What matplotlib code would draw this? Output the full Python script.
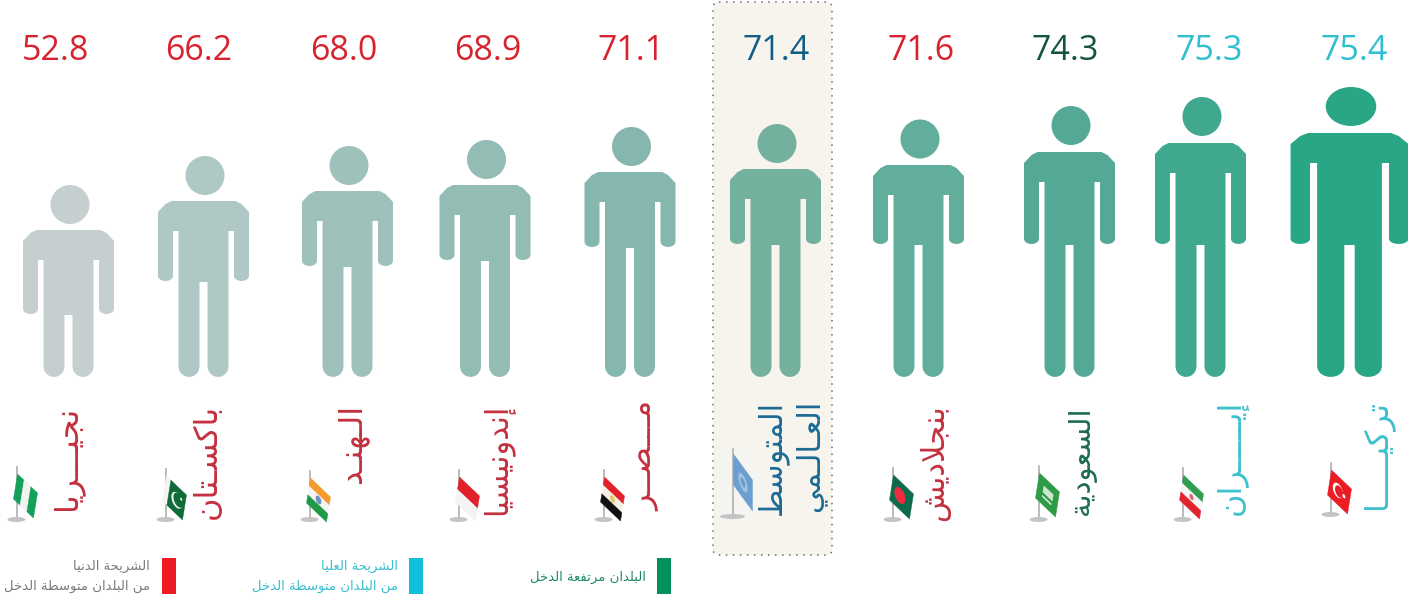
import matplotlib
matplotlib.use('Agg')
import matplotlib.pyplot as plt
from matplotlib.patches import Polygon, Ellipse, FancyBboxPatch, Rectangle
import numpy as np

# data
names = ['نجيـــريا', 'باكسـتان', 'الـهنـد', 'إندونيسيا', 'مـــصــر',
         'المتوسط', 'بنجلاديش', 'السعودية', 'إيـــــران', 'تركيـــــا']
name_line2 = {5: 'العـالـمي'}
values = [52.8, 66.2, 68.0, 68.9, 71.1, 71.4, 71.6, 74.3, 75.3, 75.4]
groups = ['low', 'low', 'low', 'low', 'low', 'avg', 'low', 'high', 'upper', 'upper']
legend_low = ['الشريحة الدنيا', 'من البلدان متوسطة الدخل']
legend_upper = ['الشريحة العليا', 'من البلدان متوسطة الدخل']
legend_high = ['البلدان مرتفعة الدخل']

# layout, pixels
num_x = [55, 199, 344, 488, 631, 776, 921, 1065, 1209, 1354]
body_x = [68.5, 203.5, 347.5, 485, 630, 775.5, 918.5, 1069.5, 1200.5, 1349.5]
head_top = [185, 156, 146, 140, 127, 124, 119.5, 106, 97, 87]
shoulder = [230, 201, 191, 185, 172, 169, 165, 152, 143, 133]
crotch = [315, 282, 267, 261, 248, 245, 245, 245, 245, 245]
width_scale = [1, 1, 1, 1, 1, 1, 1, 1, 1, 1.295]
body_colors = ['#C5CFCF', '#AFC8C5', '#9FC1BC', '#93BCB4', '#86B7AF',
               '#74B09E', '#62AE9C', '#54A996', '#40A88E', '#29A685']
name_x = [67, 207, 352, 497, 645, 772, 935, 1082, 1232, 1378]
name_y = [406, 404, 404, 404, 401, 400, 404, 406, 400, 400]
name_size = [23, 23, 23, 22, 23, 22, 22, 21, 23, 23]
pole_x = [17, 166, 310, 459, 604, 733, 893, 1039, 1183, 1331]
flag_top = [474, 476, 478, 477, 477, 454, 475, 473, 475, 470]

num_colors = {'low': '#D8232F', 'avg': '#135E86', 'high': '#15553F', 'upper': '#2FBFD0'}
name_colors = {'low': '#C4303F', 'avg': '#1C6A94', 'high': '#1E6A50', 'upper': '#3FC0CE'}

# arabic shaping, matplotlib does not do it: isolated, final, initial, medial
DUAL = {'ب': 0xFE8F, 'ت': 0xFE95, 'ج': 0xFE9D, 'ح': 0xFEA1, 'خ': 0xFEA5, 'س': 0xFEB1,
        'ش': 0xFEB5, 'ص': 0xFEB9, 'ط': 0xFEC1, 'ع': 0xFEC9, 'ف': 0xFED1, 'ق': 0xFED5,
        'ك': 0xFED9, 'ل': 0xFEDD, 'م': 0xFEE1, 'ن': 0xFEE5, 'ه': 0xFEE9, 'ي': 0xFEF1}
RIGHT = {'ا': 0xFE8D, 'أ': 0xFE83, 'إ': 0xFE87, 'د': 0xFEA9, 'ر': 0xFEAD, 'و': 0xFEED, 'ة': 0xFE93}
LAM_ALEF = {'ا': 0xFEFB, 'أ': 0xFEF7, 'إ': 0xFEF9}
KASHIDA = 'ـ'


def shape(text):
    out = []
    i = 0
    prev_joins = False
    while i < len(text):
        c = text[i]
        nxt = text[i + 1] if i + 1 < len(text) else ''
        if c == 'ل' and nxt in LAM_ALEF:
            out.append(chr(LAM_ALEF[nxt] + (1 if prev_joins else 0)))
            prev_joins = False
            i += 2
            continue
        next_ok = nxt in DUAL or nxt in RIGHT or nxt == KASHIDA
        if c == KASHIDA:
            out.append(c)
            prev_joins = True
        elif c in DUAL:
            if prev_joins and next_ok:
                off = 3
            elif prev_joins:
                off = 1
            elif next_ok:
                off = 2
            else:
                off = 0
            out.append(chr(DUAL[c] + off))
            prev_joins = next_ok
        elif c in RIGHT:
            out.append(chr(RIGHT[c] + (1 if prev_joins else 0)))
            prev_joins = False
        else:
            out.append(c)
            prev_joins = False
        i += 1
    return ''.join(reversed(out))


def arc(cx, cy, rx, ry, a0, a1, n=10):
    a = np.radians(np.linspace(a0, a1, n))
    return list(zip(cx + rx * np.cos(a), cy + ry * np.sin(a)))


def draw_person(ax, x, top, sh, cr, k, color):
    foot = 377
    pit = sh + 30
    arm_end = cr - 1
    half = [(0, sh), (32, sh)]
    half += [(38, sh + 3), (45.5, sh + 11)]
    half += [(45.5, arm_end - 5)]
    half += arc(38, arm_end - 5, 7.5, 5, 0, 180)
    half += [(30.5, pit), (25, pit)]
    half += arc(14.5, foot - 10.5, 10.5, 10.5, 0, 180)
    half += [(4, cr), (0, cr)]
    half = np.array(half)
    right = np.column_stack([x + half[:, 0] * k, half[:, 1]])
    left = np.column_stack([x - half[::-1, 0] * k, half[::-1, 1]])
    ax.add_patch(Polygon(np.vstack([right, left]), closed=True, fc=color, ec='none', zorder=3))
    ax.add_patch(Ellipse((x + 1.5, top + 19.5), 39 * k, 39, fc=color, ec='none', zorder=3))


def draw_flag(ax, i):
    px = pole_x[i]
    y0 = flag_top[i]
    un = i == 5
    pole_top = y0 - (5 if un else 7)
    base_y = 516 if un else 519
    if i == 9:
        base_y = 514
    base_w = 25 if un else 18
    ax.plot([px, px], [pole_top, base_y], color='#B5B5B5', lw=1.3, zorder=3)
    ax.add_patch(Ellipse((px - 0.5, base_y + 0.5), base_w, 5, fc='#C4C4C4', ec='none', zorder=3))

    if un:
        u, v = np.array([19.0, 26.0]), np.array([0.0, 31.0])
    else:
        u, v = np.array([20.0, 19.0]), np.array([-4.0, 25.0])
    o = np.array([px + 0.5, y0])

    def to_px(s, t):
        return o + np.outer(s, u) + np.outer(t, v)

    def band(s0, s1, t0, t1, c):
        pts = to_px(np.array([s0, s1, s1, s0]), np.array([t0, t0, t1, t1]))
        ax.add_patch(Polygon(pts, closed=True, fc=c, ec=c, lw=0.3, zorder=4))

    def disc(s, t, r, c):
        a = np.linspace(0, 2 * np.pi, 30)
        pts = to_px(s + r * np.cos(a), t + r * np.sin(a))
        ax.add_patch(Polygon(pts, closed=True, fc=c, ec='none', zorder=5))

    if i == 0:
        band(0, .33, 0, 1, '#12A05A')
        band(.33, .67, 0, 1, '#F2F2F2')
        band(.67, 1, 0, 1, '#12A05A')
    elif i == 1:
        band(0, .22, 0, 1, '#F4F4F4')
        band(.22, 1, 0, 1, '#0F6B38')
        disc(.62, .5, .27, '#F5F5F5')
        disc(.68, .45, .24, '#0F6B38')
        disc(.8, .32, .05, '#F5F5F5')
    elif i == 2:
        band(0, 1, 0, .33, '#F39B2C')
        band(0, 1, .33, .67, '#F4F4F4')
        band(0, 1, .67, 1, '#1F9A45')
        disc(.5, .5, .14, '#6F8FBF')
    elif i == 3:
        band(0, 1, 0, .5, '#E0212C')
        band(0, 1, .5, 1, '#F3F3F3')
    elif i == 4:
        band(0, 1, 0, .33, '#E0212C')
        band(0, 1, .33, .67, '#F4F1E4')
        band(0, 1, .67, 1, '#111111')
        disc(.5, .5, .12, '#E3C56B')
    elif i == 5:
        band(0, 1, 0, 1, '#6A9FD0')
        disc(.5, .5, .24, '#A4C4E2')
        disc(.5, .5, .13, '#6A9FD0')
    elif i == 6:
        band(0, 1, 0, 1, '#0E6B4A')
        disc(.42, .5, .27, '#EE2B3F')
    elif i == 7:
        band(0, 1, 0, 1, '#2E9B46')
        band(.28, .75, .3, .55, '#CFE6CF')
        band(.28, .72, .68, .73, '#E6F2E6')
    elif i == 8:
        band(0, 1, 0, .33, '#2F9E50')
        band(0, 1, .33, .67, '#F5F5F5')
        band(0, 1, .67, 1, '#E2232E')
        disc(.5, .5, .1, '#D96A72')
    else:
        band(0, 1, 0, 1, '#EC1C24')
        disc(.42, .5, .25, '#FFFFFF')
        disc(.48, .5, .2, '#EC1C24')
        disc(.72, .5, .07, '#FFFFFF')


fig = plt.figure(figsize=(14.08, 5.94), dpi=100)
ax = fig.add_axes([0, 0, 1, 1])
ax.set_xlim(0, 1408)
ax.set_ylim(594, 0)
ax.axis('off')

# highlighted average column
ax.add_patch(FancyBboxPatch((716, 5), 113, 547, boxstyle='round,pad=3,rounding_size=6',
                            fc='#F7F4EE', ec='#6E6E6E', lw=1.1, ls=(0, (1, 3.6)), zorder=1))
ax.add_patch(Rectangle((718, 445), 40, 77, fc='#F4F4F1', ec='none', zorder=2))

for i, v in enumerate(values):
    g = groups[i]
    ax.text(num_x[i], 60, '%.1f' % v, color=num_colors[g], fontsize=24.5,
            family='Open Sans', ha='center', va='baseline', zorder=4)
    draw_person(ax, body_x[i], head_top[i], shoulder[i], crotch[i], width_scale[i], body_colors[i])
    ax.text(name_x[i], name_y[i], shape(names[i]), color=name_colors[g], fontsize=name_size[i],
            family='DejaVu Sans', rotation=90, ha='center', va='top', zorder=4)
    if i in name_line2:
        ax.text(name_x[i] + 38, name_y[i], shape(name_line2[i]), color=name_colors[g], fontsize=name_size[i],
                family='DejaVu Sans', rotation=90, ha='center', va='top', zorder=4)
    draw_flag(ax, i)

# legend
legend_items = [(162, 150, legend_low, '#ED1C24', '#7A7A7A'),
                (409, 398, legend_upper, '#0FBFDA', '#35BFD0'),
                (657, 646, legend_high, '#00925A', '#1F8A6A')]
for sx, tx, lines, swatch, tc in legend_items:
    ax.add_patch(Rectangle((sx, 558), 14, 36, fc=swatch, ec='none', zorder=3))
    ys = [566, 586] if len(lines) == 2 else [577]
    for line, y in zip(lines, ys):
        ax.text(tx, y, shape(line), color=tc, fontsize=9.5, family='DejaVu Sans',
                ha='right', va='center', zorder=3)

fig.savefig('out.png', dpi=100)
